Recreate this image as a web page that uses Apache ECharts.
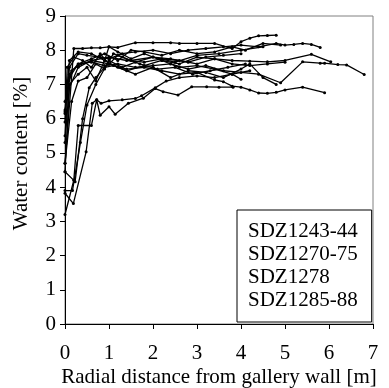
<!DOCTYPE html>
<html>
<head>
<meta charset="utf-8">
<script src="https://cdn.jsdelivr.net/npm/echarts@6/dist/echarts.min.js"></script>
<style>
  html, body { margin: 0; padding: 0; background: #fff; }
  #main { width: 389px; height: 388px; }
</style>
</head>
<body>
<div id="main"></div>
<script>
// water content profiles: [distance m, water content %]
var xTicks = [0, 1, 2, 3, 4, 5, 6, 7];
var yTicks = [0, 1, 2, 3, 4, 5, 6, 7, 8, 9];
var names = ['SDZ1243-44', 'SDZ1270-75', 'SDZ1278', 'SDZ1285-88'];

var prof01 = [[0,4.7],[0.2,8.05],[0.4,8.05],[0.6,8.07],[0.8,8.07],[1.0,8.1],[1.2,8.08],[1.6,8.22],[2.0,8.22],[2.4,8.22],[2.6,8.2],[3.0,8.2],[3.4,8.2],[3.8,8.05],[4.0,8.25],[4.2,8.35],[4.4,8.42],[4.6,8.43],[4.8,8.44]];
var prof02 = [[0,5.5],[0.1,7.5],[0.3,7.9],[0.5,7.85],[0.8,7.8],[1.0,7.75],[1.3,7.9],[1.6,7.95],[2.0,8.0],[2.4,7.9],[2.8,8.0],[3.2,8.05],[3.6,8.1],[4.0,8.15],[4.4,8.1],[4.8,8.2],[5.0,8.15],[5.2,8.17],[5.4,8.2],[5.6,8.17],[5.8,8.08]];
var prof03 = [[0,6.2],[0.1,7.2],[0.3,7.6],[0.6,7.65],[0.9,7.55],[1.2,7.6],[1.6,7.5],[2.0,7.55],[2.4,7.6],[2.8,7.45],[3.2,7.55],[3.6,7.4],[4.0,7.35],[4.4,7.3],[4.9,7.05],[5.4,7.66],[5.8,7.62],[5.9,7.62],[6.2,7.58],[6.4,7.57],[6.8,7.29]];
var prof04 = [[0,6.5],[0.15,7.4],[0.3,7.55],[0.6,7.7],[1.0,7.8],[1.4,7.7],[1.8,7.65],[2.2,7.75],[2.6,7.7],[3.0,7.6],[3.4,7.75],[3.8,7.7],[4.2,7.68],[4.6,7.66],[5.0,7.7],[5.6,7.88],[6.04,7.66]];
var prof05 = [[0,4.45],[0.1,6.9],[0.3,7.5],[0.6,7.7],[1.0,7.6],[1.4,7.45],[1.8,7.5],[2.2,7.4],[2.6,7.3],[3.0,7.35],[3.4,7.13],[3.6,7.08],[3.8,6.95],[4.0,6.92],[4.2,6.84],[4.4,6.75],[4.6,6.74],[4.8,6.77],[5.0,6.84],[5.4,6.92],[5.9,6.76]];
var prof06 = [[0,3.2],[0.2,4.2],[0.3,5.8],[0.6,5.8],[0.72,6.55],[0.8,6.1],[1.0,6.35],[1.14,6.13],[1.44,6.45],[1.78,6.6],[2.05,6.88],[2.23,6.79],[2.57,6.69],[2.88,6.93],[3.22,6.93],[3.5,6.92],[3.82,6.92]];
var prof07 = [[0,3.82],[0.19,3.52],[0.48,5.03],[0.62,6.45],[0.72,6.55],[0.82,6.45],[1.0,6.52],[1.3,6.55],[1.6,6.59],[1.74,6.67],[2.05,6.9],[2.3,7.1],[2.6,7.2],[3.0,7.25],[3.4,7.2],[3.8,7.3],[4.0,7.15]];
var prof08 = [[0,5.9],[0.05,7.5],[0.2,7.8],[0.4,7.7],[0.6,7.5],[0.8,7.9],[1.0,7.6],[1.2,7.85],[1.5,7.7],[2.0,7.8],[2.5,7.65],[3.0,7.85],[3.5,7.9],[4.0,8.0],[4.5,8.1]];
var prof09 = [[0,5.3],[0.1,7.0],[0.3,7.3],[0.5,7.5],[0.7,7.1],[0.9,7.7],[1.2,7.5],[1.6,7.3],[2.0,7.5],[2.4,7.2],[2.8,7.4],[3.2,7.35],[3.6,7.2],[4.0,7.45],[4.2,7.6],[4.5,7.2],[4.8,7.0]];
var prof10 = [[0,6.25],[0.1,7.7],[0.3,7.95],[0.6,7.9],[0.9,7.7],[1.0,8.1],[1.2,7.95],[1.5,7.75],[1.8,7.9],[2.2,7.7],[2.6,7.6],[3.0,7.8],[3.4,7.75],[3.8,7.6],[4.2,7.55],[4.6,7.6],[5.0,7.65]];
var prof11 = [[0,4.7],[0.15,6.5],[0.3,7.1],[0.5,7.2],[0.7,7.6],[0.9,7.45],[1.1,7.9],[1.3,7.8],[1.7,7.6],[2.1,7.45],[2.5,7.5],[2.9,7.3],[3.3,7.4],[3.7,7.5],[4.1,7.6]];
var prof12 = [[0,6.15],[0.1,7.3],[0.3,7.6],[0.6,7.75],[0.9,7.9],[1.2,7.7],[1.5,8.0],[1.8,7.95],[2.2,7.85],[2.6,8.0],[3.0,7.9],[3.4,7.95],[3.8,8.1],[4.1,8.0],[4.5,8.2],[4.9,8.15]];
var prof13 = [[0,4.45],[0.23,4.16],[0.4,6.0],[0.55,6.9],[0.7,7.2],[0.9,7.5],[1.1,7.55],[1.4,7.4],[1.8,7.55],[2.2,7.7],[2.6,7.5],[3.0,7.55],[3.4,7.45],[3.8,7.3],[4.2,7.4]];
var prof14 = [[0,3.9],[0.17,3.9],[0.35,5.3],[0.5,6.4],[0.7,7.0],[1.0,7.7],[1.3,7.5],[1.6,7.65],[2.0,7.8],[2.4,7.75],[2.8,7.65],[3.2,7.8],[3.6,7.85],[4.0,7.9]];

var profiles = [
  {name: names[0], data: prof01}, {name: names[0], data: prof02}, {name: names[0], data: prof08},
  {name: names[1], data: prof03}, {name: names[1], data: prof04}, {name: names[1], data: prof09}, {name: names[1], data: prof10},
  {name: names[2], data: prof05}, {name: names[2], data: prof06}, {name: names[2], data: prof11},
  {name: names[3], data: prof07}, {name: names[3], data: prof12}, {name: names[3], data: prof13}, {name: names[3], data: prof14}
];

var font = 'Liberation Serif, Times New Roman, serif';
var chart = echarts.init(document.getElementById('main'));
var option = {
  animation: false,
  backgroundColor: '#fff',
  grid: {
    left: 65, right: 16, top: 16, bottom: 64,
    outerBoundsMode: 'none',
    show: true, borderColor: '#808080', borderWidth: 1
  },
  legend: {
    orient: 'vertical',
    left: 237, top: 210,
    data: names,
    itemWidth: 0, itemHeight: 0,
    itemGap: 0,
    padding: [9.5, 14, 10.5, 5],
    borderColor: '#000', borderWidth: 1,
    backgroundColor: '#fff',
    selectedMode: false,
    textStyle: {fontFamily: font, fontSize: 21, color: '#000', lineHeight: 23}
  },
  xAxis: {
    type: 'value', min: xTicks[0], max: xTicks[xTicks.length - 1], interval: 1,
    name: 'Radial distance from gallery wall [m]',
    nameLocation: 'middle', nameGap: 43, nameMoveOverlap: false,
    nameTextStyle: {fontFamily: font, fontSize: 21, color: '#000'},
    axisLine: {show: true, lineStyle: {color: '#000', width: 1}},
    axisTick: {show: true, inside: false, length: 5, lineStyle: {color: '#000'}},
    axisLabel: {fontFamily: font, fontSize: 21, color: '#000', margin: 19},
    splitLine: {show: false}
  },
  yAxis: {
    type: 'value', min: yTicks[0], max: yTicks[yTicks.length - 1], interval: 1,
    name: 'Water content [%]',
    nameLocation: 'middle', nameGap: 33, nameMoveOverlap: false,
    nameTextStyle: {fontFamily: font, fontSize: 21, color: '#000', padding: [0, 0, 0, 33]},
    axisLine: {show: true, lineStyle: {color: '#000', width: 1}},
    axisTick: {show: true, inside: false, length: 5, lineStyle: {color: '#000'}},
    axisLabel: {fontFamily: font, fontSize: 21, color: '#000', margin: 9},
    splitLine: {show: false}
  },
  series: profiles.map(function (p) {
    return {
      name: p.name,
      type: 'line',
      data: p.data,
      symbol: 'circle',
      symbolSize: 3,
      itemStyle: {color: '#000'},
      lineStyle: {color: '#000', width: 1.3},
      emphasis: {disabled: true}
    };
  })
};
chart.setOption(option);
</script>
</body>
</html>
